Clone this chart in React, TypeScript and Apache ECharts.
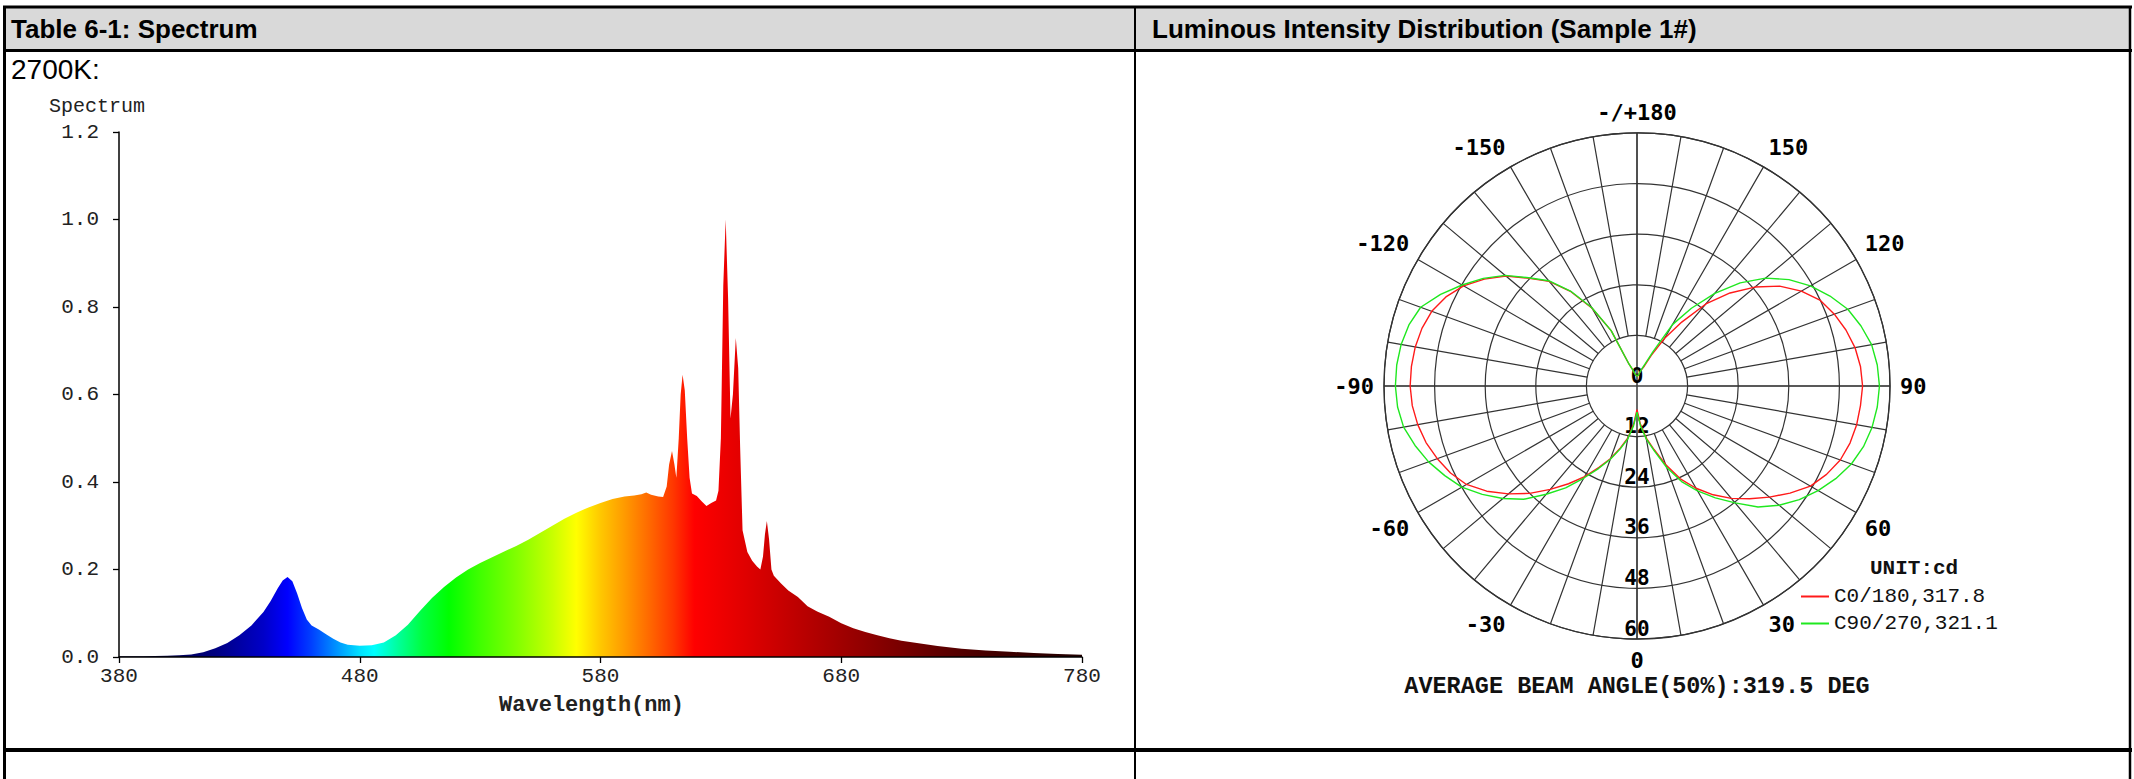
import React, { useEffect, useRef } from "react";
import * as echarts from "echarts";

const WIDTH = 2134;
const HEIGHT = 779;

// ---------- Spectrum data (relative spectral power vs wavelength, nm) ----------
const wavelengths = [
  380, 390, 400, 405, 410, 415, 420, 425, 430, 435, 440, 443, 446, 448, 450, 452, 454, 456, 458, 460,
  463, 466, 469, 472, 475, 480, 485, 490, 495, 500, 505, 510, 515, 520, 525, 530, 535, 540, 545, 550,
  555, 560, 565, 570, 575, 580, 585, 590, 594, 597, 599, 601, 604, 606, 607.5, 608.5, 609.7, 610.7, 611.5, 612.5,
  613.3, 614.1, 615, 616, 617, 618, 620, 622, 624, 626, 628, 629, 630, 631, 632, 633, 634, 635, 636.2, 637.2,
  638, 639, 641, 643, 645, 646.4, 647.5, 648.3, 649.1, 650, 651, 652, 655, 658, 662, 666, 670, 675, 680, 685,
  690, 695, 700, 705, 710, 720, 730, 740, 750, 760, 770, 780,
];
const spectrumValues = [
  0.002, 0.002, 0.003, 0.004, 0.006, 0.011, 0.02, 0.032, 0.05, 0.072, 0.103, 0.128, 0.158, 0.175, 0.183, 0.173, 0.145, 0.112, 0.086, 0.072,
  0.063, 0.052, 0.042, 0.033, 0.028, 0.026, 0.027, 0.033, 0.05, 0.074, 0.105, 0.135, 0.16, 0.182, 0.2, 0.215, 0.228, 0.241, 0.254, 0.268,
  0.284, 0.3, 0.316, 0.33, 0.342, 0.352, 0.361, 0.367, 0.369, 0.372, 0.376, 0.371, 0.367, 0.366, 0.39, 0.44, 0.471, 0.44, 0.41, 0.5,
  0.6, 0.645, 0.61, 0.5, 0.41, 0.374, 0.368, 0.356, 0.345, 0.352, 0.358, 0.38, 0.5, 0.85, 1.0, 0.82, 0.545, 0.6, 0.729, 0.66,
  0.48, 0.29, 0.24, 0.22, 0.207, 0.2, 0.23, 0.28, 0.311, 0.27, 0.2, 0.186, 0.168, 0.152, 0.137, 0.116, 0.104, 0.092, 0.077, 0.066,
  0.057, 0.05, 0.043, 0.037, 0.033, 0.025, 0.019, 0.015, 0.012, 0.009, 0.007, 0.005,
];

// ---------- Luminous intensity distribution (polar) ----------
const polarAngles = [
  -180, -175, -170, -165, -160, -155, -150, -145, -140, -135, -130, -125, -120, -115, -110, -105, -100, -95, -90,
  -85, -80, -75, -70, -65, -60, -55, -50, -45, -40, -35, -30, -25, -20, -15, -10, -5, 0,
  5, 10, 15, 20, 25, 30, 35, 40, 45, 50, 55, 60, 65, 70, 75, 80, 85, 90,
  95, 100, 105, 110, 115, 120, 125, 130, 135, 140, 145, 150, 155, 160, 165, 170, 175, 180,
];
const c0Intensity = [
  2.3, 2.5, 3.0, 4.0, 5.5, 14.5, 21.3, 27.3, 32.4, 36.1, 40.6, 44.2, 47.5, 50.0, 51.8, 52.8, 53.4, 53.7, 53.8,
  53.5, 52.8, 51.8, 50.4, 48.8, 46.7, 43.5, 39.8, 36.0, 32.0, 28.3, 24.8, 21.3, 18.3, 15.2, 12.5, 9.0, 5.6,
  9.0, 12.5, 15.6, 19.8, 24.3, 28.0, 31.5, 34.8, 37.8, 41.0, 44.3, 47.5, 49.6, 51.3, 52.3, 52.9, 53.2, 53.5,
  53.2, 52.5, 51.3, 49.8, 48.0, 45.0, 41.3, 36.5, 31.2, 25.4, 18.5, 13.0, 8.0, 5.0, 4.0, 3.0, 2.5, 2.3,
];
const c90Intensity = [
  2.3, 2.5, 3.0, 4.0, 5.5, 14.5, 21.5, 27.5, 32.6, 36.3, 40.8, 44.5, 47.9, 51.4, 54.6, 56.0, 56.8, 57.2, 57.3,
  57.0, 56.2, 54.5, 52.6, 50.3, 48.0, 44.8, 41.5, 38.0, 33.5, 29.5, 25.2, 21.6, 18.5, 15.5, 12.8, 9.5, 6.2,
  9.5, 12.8, 16.0, 20.5, 25.0, 28.7, 32.4, 36.2, 40.6, 44.0, 47.0, 49.6, 52.0, 54.1, 55.6, 56.6, 57.2, 57.5,
  57.2, 56.5, 55.0, 53.2, 50.5, 47.5, 44.0, 39.8, 34.6, 28.7, 22.5, 16.8, 9.0, 5.5, 4.0, 3.0, 2.5, 2.3,
];
const seriesNames = ["C0/180,317.8", "C90/270,321.1"];
const seriesColors = ["#ff1a1a", "#1fe81f"];

// ---------- styling ----------
const MONO = "'Liberation Mono', 'Courier New', monospace";
const SANS = "'Liberation Sans', Arial, sans-serif";
const POLAR_FONT = "'DejaVu Sans Mono', monospace";

const spectrumStops: [number, string][] = [
  [380, "#101040"], [400, "#000050"], [420, "#000080"], [440, "#0000c8"], [450, "#0000ff"],
  [460, "#0040ff"], [470, "#0090ff"], [480, "#00e0ff"], [486, "#00ffff"], [496, "#00ff9a"],
  [506, "#00ff40"], [517, "#00ff00"], [530, "#40ff00"], [545, "#80ff00"], [560, "#c8ff00"],
  [570, "#ffff00"], [580, "#ffc800"], [590, "#ff9a00"], [600, "#ff6a00"], [610, "#ff3800"],
  [619, "#ff0000"], [640, "#e00000"], [660, "#c00000"], [680, "#a00000"], [700, "#800000"],
  [720, "#600000"], [745, "#400000"], [780, "#200000"],
];

const CX = 1637;
const CY = 386;
const R = 253;

const toEcAngle = (a: number) => (a < 0 ? a + 360 : a);

function buildOption() {
  const gradient = new echarts.graphic.LinearGradient(
    0, 0, 1, 0,
    spectrumStops.map(([w, c]) => ({ offset: (w - 380) / 400, color: c }))
  );

  const angleLabel = (v: number) => {
    if (v === 360) return "";
    if (v === 180) return "-/+180";
    return v > 180 ? String(v - 360) : String(v);
  };

  const gridLine = { color: "#333", width: 1.2 };
  const textLeft = { textAlign: "left", textVerticalAlign: "middle", align: "left", verticalAlign: "middle" };
  const textCenter = { textAlign: "center", textVerticalAlign: "middle", align: "center", verticalAlign: "middle" };

  return {
    animation: false,
    backgroundColor: "#ffffff",
    grid: { left: 119, top: 132, width: 963, height: 525, containLabel: false },
    xAxis: {
      type: "value",
      min: 380,
      max: 780,
      interval: 100,
      z: 10,
      axisLine: { show: true, onZero: false, lineStyle: { color: "#000", width: 1.5 } },
      axisTick: { show: true, length: 6, lineStyle: { color: "#000", width: 1.3 } },
      axisLabel: { margin: 9, fontFamily: MONO, fontSize: 21, color: "#222" },
      splitLine: { show: false },
      name: "Wavelength(nm)",
      nameLocation: "middle",
      nameGap: 37,
      nameTextStyle: { fontFamily: MONO, fontSize: 22, fontWeight: "bold", color: "#222", padding: [0, 18, 0, 0] },
    },
    yAxis: {
      type: "value",
      min: 0,
      max: 1.2,
      interval: 0.2,
      z: 10,
      axisLine: { show: true, lineStyle: { color: "#000", width: 1.5 } },
      axisTick: { show: true, length: 6, lineStyle: { color: "#000", width: 1.3 } },
      axisLabel: {
        margin: 20,
        fontFamily: MONO,
        fontSize: 21,
        color: "#222",
        formatter: (v: number) => v.toFixed(1),
      },
      splitLine: { show: false },
    },
    polar: [
      { center: [CX, CY], radius: R },
      { center: [CX, CY], radius: [R / 5, R] },
      { center: [CX, CY], radius: R },
    ],
    angleAxis: [
      {
        polarIndex: 0,
        type: "value",
        min: 0,
        max: 360,
        interval: 30,
        startAngle: 270,
        clockwise: false,
        axisLine: { show: true, lineStyle: { color: "#333", width: 1.3 } },
        axisTick: { show: false },
        splitLine: { show: false },
        axisLabel: {
          margin: 10,
          fontFamily: POLAR_FONT,
          fontSize: 22,
          fontWeight: "bold",
          color: "#000",
          formatter: angleLabel,
        },
      },
      {
        polarIndex: 1,
        type: "value",
        min: 0,
        max: 360,
        interval: 10,
        startAngle: 270,
        clockwise: false,
        axisLine: { show: false },
        axisTick: { show: false },
        axisLabel: { show: false },
        splitLine: { show: true, lineStyle: gridLine },
      },
      {
        polarIndex: 2,
        type: "value",
        min: 0,
        max: 360,
        interval: 90,
        startAngle: 270,
        clockwise: false,
        axisLine: { show: false },
        axisTick: { show: false },
        axisLabel: { show: false },
        splitLine: { show: true, lineStyle: { color: "#444", width: 1.6 } },
      },
    ],
    radiusAxis: [
      {
        polarIndex: 0,
        type: "value",
        min: 0,
        max: 60,
        interval: 12,
        axisLine: { show: false },
        axisTick: { show: false },
        splitLine: { show: true, lineStyle: gridLine },
        axisLabel: {
          margin: 0,
          align: "center",
          verticalAlign: "bottom",
          fontFamily: POLAR_FONT,
          fontSize: 21,
          fontWeight: "bold",
          color: "#000",
        },
        z: 5,
      },
      {
        polarIndex: 1,
        type: "value",
        min: 0,
        max: 60,
        axisLine: { show: false },
        axisTick: { show: false },
        axisLabel: { show: false },
        splitLine: { show: false },
      },
      {
        polarIndex: 2,
        type: "value",
        min: 0,
        max: 60,
        axisLine: { show: false },
        axisTick: { show: false },
        axisLabel: { show: false },
        splitLine: { show: false },
      },
    ],
    legend: {
      data: seriesNames,
      orient: "vertical",
      left: 1801,
      top: 586,
      padding: 0,
      itemGap: 6,
      itemWidth: 28,
      itemHeight: 2,
      icon: "rect",
      selectedMode: false,
      textStyle: { fontFamily: MONO, fontSize: 21, color: "#111" },
    },
    series: [
      {
        type: "line",
        name: "spectrum",
        xAxisIndex: 0,
        yAxisIndex: 0,
        data: wavelengths.map((w, i) => [w, spectrumValues[i]]),
        symbol: "none",
        lineStyle: { width: 0 },
        areaStyle: { color: gradient, opacity: 1 },
        z: 2,
      },
      {
        type: "line",
        name: seriesNames[0],
        coordinateSystem: "polar",
        polarIndex: 0,
        data: polarAngles.map((a, i) => [c0Intensity[i], toEcAngle(a)]),
        symbol: "none",
        itemStyle: { color: seriesColors[0] },
        lineStyle: { color: seriesColors[0], width: 1.4 },
        z: 6,
      },
      {
        type: "line",
        name: seriesNames[1],
        coordinateSystem: "polar",
        polarIndex: 0,
        data: polarAngles.map((a, i) => [c90Intensity[i], toEcAngle(a)]),
        symbol: "none",
        itemStyle: { color: seriesColors[1] },
        lineStyle: { color: seriesColors[1], width: 1.4 },
        z: 6,
      },
    ],
    graphic: [
      // header background
      { type: "rect", shape: { x: 5, y: 7, width: 2125, height: 43 }, style: { fill: "#d9d9d9" }, z: -1 },
      // table lines
      { type: "line", shape: { x1: 3, y1: 7, x2: 2132, y2: 7 }, style: { stroke: "#000", lineWidth: 3 } },
      { type: "line", shape: { x1: 3, y1: 50.5, x2: 2132, y2: 50.5 }, style: { stroke: "#000", lineWidth: 3 } },
      { type: "line", shape: { x1: 3, y1: 750, x2: 2132, y2: 750 }, style: { stroke: "#000", lineWidth: 4 } },
      { type: "line", shape: { x1: 4.5, y1: 6, x2: 4.5, y2: 779 }, style: { stroke: "#000", lineWidth: 3 } },
      { type: "line", shape: { x1: 1135, y1: 6, x2: 1135, y2: 779 }, style: { stroke: "#000", lineWidth: 2 } },
      { type: "line", shape: { x1: 2130, y1: 6, x2: 2130, y2: 779 }, style: { stroke: "#000", lineWidth: 2.5 } },
      // texts
      { type: "text", x: 11, y: 29, style: { text: "Table 6-1: Spectrum", fill: "#000", font: `bold 26px ${SANS}`, ...textLeft } },
      { type: "text", x: 1152, y: 29, style: { text: "Luminous Intensity Distribution (Sample 1#)", fill: "#000", font: `bold 26px ${SANS}`, ...textLeft } },
      { type: "text", x: 11, y: 69, style: { text: "2700K:", fill: "#000", font: `28px ${SANS}`, ...textLeft } },
      { type: "text", x: 49, y: 106, style: { text: "Spectrum", fill: "#222", font: `20px ${MONO}`, ...textLeft } },
      { type: "text", x: CX, y: 686, style: { text: "AVERAGE BEAM ANGLE(50%):319.5 DEG", fill: "#111", font: `bold 23.5px ${MONO}`, ...textCenter } },
      { type: "text", x: 1870, y: 568, style: { text: "UNIT:cd", fill: "#111", font: `bold 21px ${MONO}`, ...textLeft } },
    ],
  };
}

export default function App() {
  const ref = useRef<HTMLDivElement>(null);
  useEffect(() => {
    document.body.style.margin = "0";
    if (!ref.current) return;
    const chart = echarts.init(ref.current, undefined, { renderer: "svg" });
    chart.setOption(buildOption() as any);
    return () => chart.dispose();
  }, []);
  return <div ref={ref} style={{ width: WIDTH, height: HEIGHT }} />;
}
